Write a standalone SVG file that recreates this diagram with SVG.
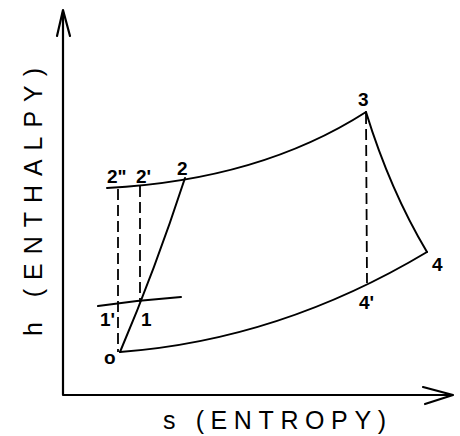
<svg xmlns="http://www.w3.org/2000/svg" width="460" height="436" viewBox="0 0 460 436">
<style>
.ax{fill:none;stroke:#000;stroke-width:2.2;stroke-linecap:round;stroke-linejoin:round}
.cv{fill:none;stroke:#000;stroke-width:2;stroke-linecap:round}
.ds{fill:none;stroke:#000;stroke-width:1.8;stroke-dasharray:11 5}
.lb{font-family:"Liberation Sans",Arial,sans-serif;font-size:19px;font-weight:bold;fill:#000}
.tt{font-family:"Liberation Sans",Arial,sans-serif;font-size:25px;fill:#000}
</style>
<rect width="460" height="436" fill="#fff"/>
<g id="axes">
<polyline class="ax" points="63,12 63,395 452,395"/>
<polyline class="ax" points="57,36 63,10 70,36"/>
<polyline class="ax" points="423,387 453,395 425,404"/>
<text class="tt" transform="translate(42,336) rotate(-90)" textLength="268" lengthAdjust="spacing">h (ENTHALPY)</text>
<text class="tt" x="163" y="429" textLength="223" lengthAdjust="spacing">s (ENTROPY)</text>
</g>
<g id="connectors">
<path class="cv" d="M120,352 Q155,270 185,178"/>
<path class="cv" d="M107,188 Q260,180 366,112"/>
<path class="cv" d="M366,112 Q390,190 427,252"/>
<path class="cv" d="M120,352 Q280,340 427,252"/>
<path class="cv" d="M98,306 Q140,300 181,297"/>
<line class="ds" x1="118" y1="189" x2="118" y2="352"/>
<line class="ds" x1="140" y1="186" x2="140" y2="302"/>
<line class="ds" x1="366" y1="113" x2="367" y2="283"/>
</g>
<g id="labels">
<text class="lb" x="107" y="183">2"</text>
<text class="lb" x="136" y="183">2'</text>
<text class="lb" x="177" y="175">2</text>
<text class="lb" x="358" y="106">3</text>
<text class="lb" x="432" y="271">4</text>
<text class="lb" x="359" y="309">4'</text>
<text class="lb" x="100" y="326">1'</text>
<text class="lb" x="141" y="326">1</text>
<text class="lb" x="104" y="364">o</text>
</g>
</svg>
